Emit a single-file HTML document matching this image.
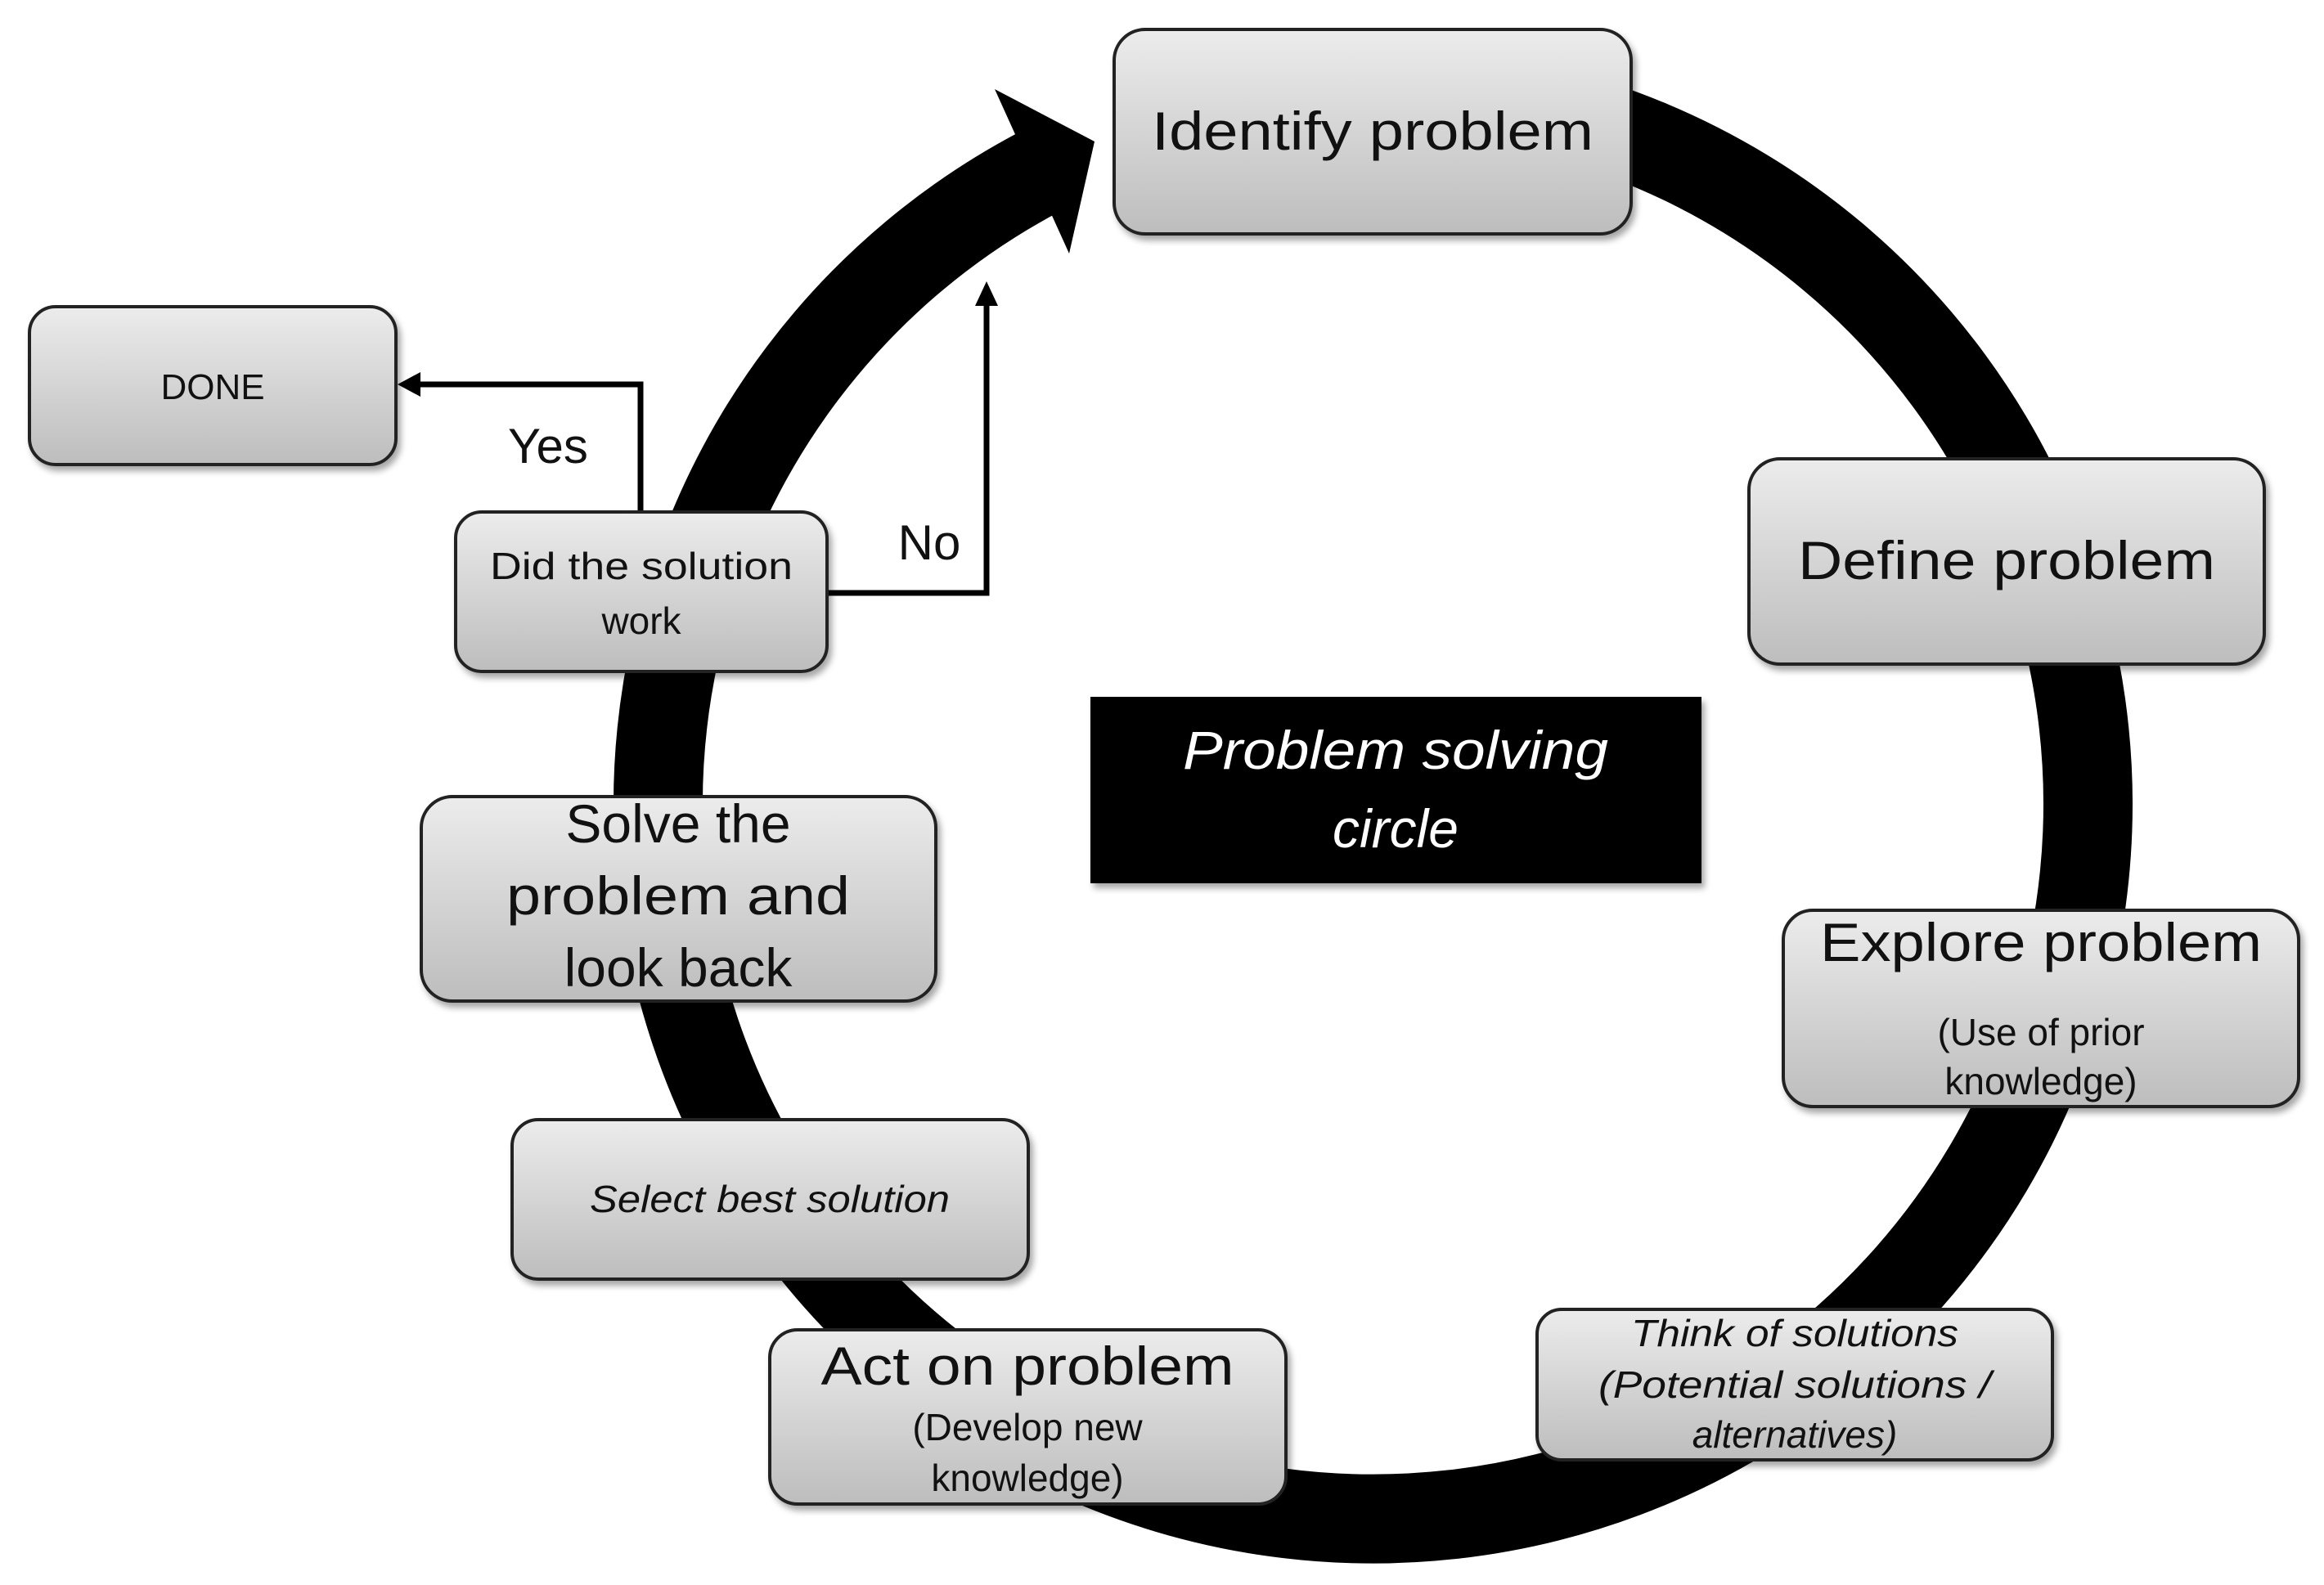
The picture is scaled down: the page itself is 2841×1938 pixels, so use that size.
<!DOCTYPE html>
<html><head><meta charset="utf-8"><style>
html,body{margin:0;padding:0;background:#fff}
svg{display:block}
text{font-family:"Liberation Sans",sans-serif;fill:#111}
</style></head><body>
<svg width="2841" height="1938" viewBox="0 0 2841 1938" xmlns="http://www.w3.org/2000/svg">
<defs>
<linearGradient id="g" x1="0" y1="0" x2="0" y2="1">
<stop offset="0" stop-color="#ececec"/><stop offset="1" stop-color="#bdbdbd"/>
</linearGradient>
<filter id="sh" x="-10%" y="-10%" width="130%" height="140%">
<feDropShadow dx="4" dy="6" stdDeviation="4" flood-color="#000" flood-opacity="0.35"/>
</filter>
</defs>
<rect width="2841" height="1938" fill="#fff"/>
<!-- ring -->
<path d="M1905,139 A874,874 0 1 1 1269,211" fill="none" stroke="#000" stroke-width="109"/>
<polygon points="1216,109 1338,173 1307,310" fill="#000"/>
<!-- connectors -->
<polyline points="783,626 783,470 500,470" fill="none" stroke="#000" stroke-width="7"/>
<polygon points="486,470 514,455 514,485" fill="#000"/>
<polyline points="1011,725 1206,725 1206,360" fill="none" stroke="#000" stroke-width="7"/>
<polygon points="1206,344 1192,374 1220,374" fill="#000"/>
<text x="670" y="566" font-size="60" text-anchor="middle">Yes</text>
<text x="1136" y="684" font-size="60" text-anchor="middle">No</text>
<!-- boxes -->
<g stroke="#222" stroke-width="4" fill="url(#g)" filter="url(#sh)">
<rect x="1362" y="36" width="632" height="250" rx="38"/>
<rect x="36" y="375" width="448" height="193" rx="32"/>
<rect x="557" y="626" width="454" height="195" rx="32"/>
<rect x="2138" y="561" width="630" height="251" rx="38"/>
<rect x="515" y="974" width="629" height="250" rx="38"/>
<rect x="2180" y="1113" width="630" height="240" rx="36"/>
<rect x="626" y="1369" width="631" height="195" rx="32"/>
<rect x="941" y="1626" width="631" height="213" rx="34"/>
<rect x="1879" y="1601" width="630" height="184" rx="30"/>
</g>
<rect x="1333" y="852" width="747" height="228" fill="#000" filter="url(#sh)"/>
<!-- text -->
<text x="1678" y="183" font-size="66" text-anchor="middle" textLength="540" lengthAdjust="spacingAndGlyphs">Identify problem</text>
<text x="260" y="488" font-size="44" text-anchor="middle">DONE</text>
<text x="784" y="708" font-size="46" text-anchor="middle" textLength="370" lengthAdjust="spacingAndGlyphs">Did the solution</text>
<text x="784" y="775" font-size="46" text-anchor="middle">work</text>
<text x="2453" y="708" font-size="66" text-anchor="middle" textLength="510" lengthAdjust="spacingAndGlyphs">Define problem</text>
<text x="1706" y="940" font-size="66" font-style="italic" fill="#fff" style="fill:#fff" text-anchor="middle" textLength="520" lengthAdjust="spacingAndGlyphs">Problem solving</text>
<text x="1706" y="1036" font-size="66" font-style="italic" style="fill:#fff" text-anchor="middle">circle</text>
<text x="829" y="1030" font-size="66" text-anchor="middle">Solve the</text>
<text x="829" y="1118" font-size="66" text-anchor="middle" textLength="420" lengthAdjust="spacingAndGlyphs">problem and</text>
<text x="829" y="1206" font-size="66" text-anchor="middle">look back</text>
<text x="2495" y="1175" font-size="66" text-anchor="middle" textLength="540" lengthAdjust="spacingAndGlyphs">Explore problem</text>
<text x="2495" y="1278" font-size="46" text-anchor="middle">(Use of prior</text>
<text x="2495" y="1338" font-size="46" text-anchor="middle">knowledge)</text>
<text x="941" y="1482" font-size="46" font-style="italic" text-anchor="middle" textLength="440" lengthAdjust="spacingAndGlyphs">Select best solution</text>
<text x="1256" y="1693" font-size="66" text-anchor="middle" textLength="505" lengthAdjust="spacingAndGlyphs">Act on problem</text>
<text x="1256" y="1761" font-size="46" text-anchor="middle">(Develop new</text>
<text x="1256" y="1823" font-size="46" text-anchor="middle">knowledge)</text>
<text x="2194" y="1646" font-size="46" font-style="italic" text-anchor="middle" textLength="400" lengthAdjust="spacingAndGlyphs">Think of solutions</text>
<text x="2194" y="1709" font-size="46" font-style="italic" text-anchor="middle" textLength="480" lengthAdjust="spacingAndGlyphs">(Potential solutions /</text>
<text x="2194" y="1770" font-size="46" font-style="italic" text-anchor="middle">alternatives)</text>
</svg>
</body></html>
